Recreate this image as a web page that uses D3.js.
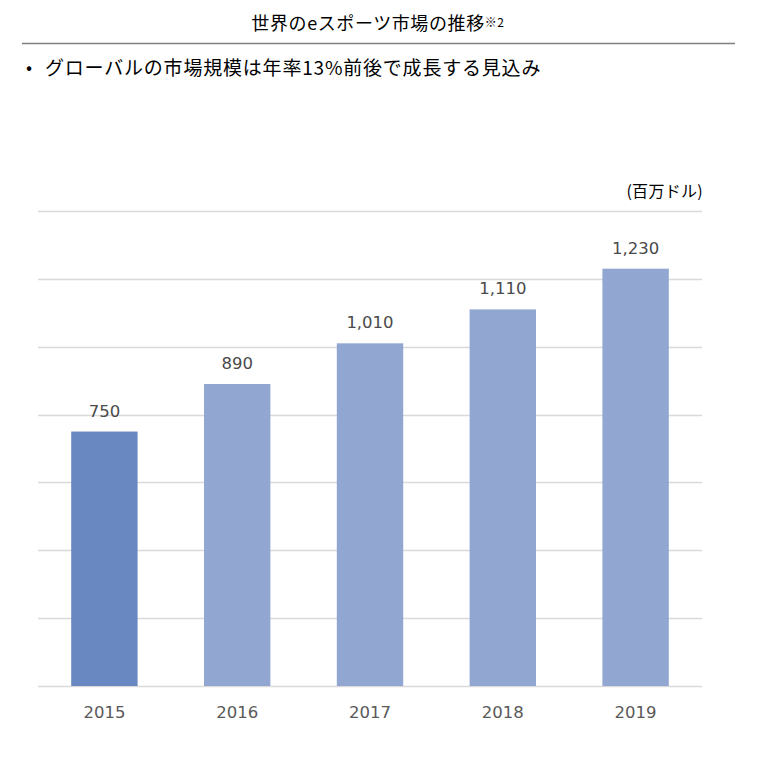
<!DOCTYPE html>
<html>
<head>
<meta charset="utf-8">
<script src="https://cdn.jsdelivr.net/npm/d3@7"></script>
<style>
  body { margin: 0; background: #fff; }
  text { font-family: "Noto Sans CJK JP", "Noto Sans", sans-serif; }
  .num { font-family: "DejaVu Sans", Verdana, sans-serif; }
</style>
</head>
<body>
<div id="chart"></div>
<script>
const years = ["2015", "2016", "2017", "2018", "2019"];
const values = [750, 890, 1010, 1110, 1230];
const yTicks = [0, 200, 400, 600, 800, 1000, 1200, 1400];

const width = 762;
const height = 762;
const margin = { top: 211, right: 60, bottom: 76, left: 38 };

const svg = d3.select("#chart")
  .append("svg")
  .attr("width", width)
  .attr("height", height);

// title + rule
svg.append("text")
  .attr("x", 378)
  .attr("y", 30)
  .attr("text-anchor", "middle")
  .attr("font-size", 18)
  .attr("letter-spacing", 0.6)
  .attr("fill", "#000")
  .text("世界のeスポーツ市場の推移")
  .append("tspan")
  .attr("font-size", 12)
  .attr("dy", -3)
  .text("※2");

svg.append("line")
  .attr("x1", 22).attr("x2", 735)
  .attr("y1", 43.5).attr("y2", 43.5)
  .attr("stroke", "#7f7f7f")
  .attr("stroke-width", 1.3);

svg.append("text")
  .attr("x", 26)
  .attr("y", 74)
  .attr("font-size", 18)
  .attr("fill", "#000")
  .text("•");

svg.append("text")
  .attr("x", 45)
  .attr("y", 75)
  .attr("font-size", 19)
  .attr("letter-spacing", 0.8)
  .attr("fill", "#000")
  .text("グローバルの市場規模は年率13%前後で成長する見込み");

svg.append("text")
  .attr("x", 703)
  .attr("y", 197)
  .attr("text-anchor", "end")
  .attr("font-size", 16)
  .attr("letter-spacing", 0.3)
  .attr("fill", "#000")
  .text("(百万ドル)");

const x = d3.scaleBand()
  .domain(years)
  .range([margin.left, width - margin.right])
  .paddingInner(0.5)
  .paddingOuter(0.25);

const y = d3.scaleLinear()
  .domain([0, 1400])
  .range([height - margin.bottom, margin.top]);

// gridlines
svg.append("g")
  .selectAll("line")
  .data(yTicks)
  .join("line")
  .attr("x1", margin.left)
  .attr("x2", width - margin.right)
  .attr("y1", (d) => Math.round(y(d)) + 0.5)
  .attr("y2", (d) => Math.round(y(d)) + 0.5)
  .attr("stroke", "#d9d9d9")
  .attr("stroke-width", 1.3);

const data = years.map((yr, i) => ({ year: yr, value: values[i] }));

svg.append("g")
  .selectAll("rect")
  .data(data)
  .join("rect")
  .attr("x", (d) => x(d.year))
  .attr("width", x.bandwidth())
  .attr("y", (d) => y(d.value))
  .attr("height", (d) => y(0) - y(d.value))
  .attr("fill", (d, i) => (i === 0 ? "#6988c1" : "#91a7d1"));

// value labels
svg.append("g")
  .selectAll("text")
  .data(data)
  .join("text")
  .attr("class", "num")
  .attr("x", (d) => x(d.year) + x.bandwidth() / 2)
  .attr("y", (d) => y(d.value) - 15)
  .attr("text-anchor", "middle")
  .attr("font-size", 16.5)
  .attr("fill", "#4a4a4a")
  .text((d) => d3.format(",")(d.value));

// x axis labels
const xAxis = svg.append("g")
  .attr("transform", `translate(0,${y(0)})`)
  .call(d3.axisBottom(x).tickSize(0).tickPadding(20));
xAxis.select(".domain").remove();
xAxis.selectAll("text")
  .attr("class", "num")
  .attr("font-size", 16.5)
  .attr("fill", "#595959")
  .style("font-family", "'DejaVu Sans', Verdana, sans-serif");
</script>
</body>
</html>
